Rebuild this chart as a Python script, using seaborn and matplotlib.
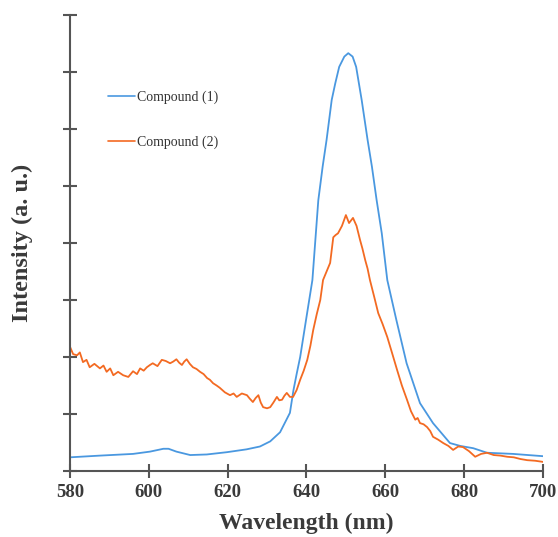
import numpy as np
import pandas as pd
import matplotlib
matplotlib.use("Agg")
import matplotlib.pyplot as plt
import seaborn as sns

# Compound (1) - smooth emission spectrum (a.u.)
wl_1 = [580, 587.6, 596, 600.3, 603.7, 605, 607, 610.5, 614.7, 619.8, 624.8, 628.2,
        630.8, 633.3, 635.8, 636.7, 637.5, 638.4, 640, 641.5, 643, 644.1, 645.1,
        646.4, 647.3, 648.3, 649.6, 650.6, 651.7, 652.6, 654, 655.5, 656.6, 657.8,
        659.1, 660.5, 662.8, 665.4, 668.8, 672.1, 676.4, 679, 682.3, 685.8, 692.4, 700]
int_1 = [0.24, 0.27, 0.30, 0.34, 0.39, 0.39, 0.34, 0.28, 0.29, 0.33, 0.38, 0.43,
         0.52, 0.68, 1.02, 1.42, 1.70, 2.00, 2.70, 3.35, 4.75, 5.34, 5.81,
         6.51, 6.80, 7.09, 7.27, 7.33, 7.27, 7.09, 6.51, 5.81, 5.34, 4.75,
         4.17, 3.35, 2.65, 1.89, 1.19, 0.84, 0.49, 0.44, 0.40, 0.32, 0.30, 0.26]

# Compound (2) - noisy emission spectrum
wl_2 = [580, 580.8, 581.8, 582.5, 583.3, 584.2, 585, 586.2, 587.6, 588.5, 589.3, 590.2,
        591, 592.2, 593.5, 594.8, 596, 597, 597.8, 598.7, 599.5, 600.3, 601, 602.2,
        603.3, 604.3, 605.4, 606.2, 607, 607.7, 608.4, 609, 609.6, 610.4, 611.2, 612.1,
        613, 613.9, 614.8, 615.5, 616.3, 617.2, 618, 619.3, 620.6, 621.5, 622.3, 623.6,
        624.9, 625.6, 626.4, 627.1, 627.8, 628.4, 629, 630, 630.8, 631.6, 632.5, 633.1,
        633.8, 634.4, 635, 635.8, 636.6, 637.5, 638.4, 639.3, 640.2, 641, 641.7, 642.6,
        643.5, 644.2, 645.1, 646, 646.8, 647.4, 648, 649, 650, 650.8, 651.8, 652.7,
        653.6, 654.2, 654.9, 655.5, 656.1, 657.2, 658.2, 659.3, 660.5, 661.8, 663, 664.2,
        665.5, 666.5, 667.6, 668.2, 668.8, 669.7, 670.6, 671.4, 672.1, 673.4, 674.7,
        676, 677.2, 678.5, 679.7, 681.2, 682.8, 684.3, 685.8, 687.5, 689.2, 690.9,
        692.6, 694.3, 696, 698, 700]
int_2 = [2.18, 2.05, 2.03, 2.08, 1.91, 1.95, 1.82, 1.88, 1.80, 1.85, 1.74, 1.80,
         1.68, 1.74, 1.68, 1.65, 1.75, 1.70, 1.80, 1.76, 1.82, 1.86, 1.89, 1.84,
         1.95, 1.93, 1.89, 1.92, 1.96, 1.90, 1.86, 1.92, 1.96, 1.88, 1.82, 1.79,
         1.74, 1.70, 1.63, 1.60, 1.54, 1.50, 1.46, 1.38, 1.33, 1.36, 1.30, 1.36,
         1.33, 1.27, 1.21, 1.28, 1.33, 1.20, 1.12, 1.10, 1.12, 1.20, 1.30, 1.24,
         1.25, 1.32, 1.37, 1.30, 1.30, 1.42, 1.60, 1.76, 1.95, 2.20, 2.47, 2.75,
         3.00, 3.35, 3.50, 3.65, 4.10, 4.14, 4.17, 4.30, 4.49, 4.35, 4.44, 4.30,
         4.05, 3.90, 3.70, 3.55, 3.35, 3.05, 2.77, 2.58, 2.35, 2.05, 1.77, 1.50,
         1.25, 1.05, 0.90, 0.93, 0.84, 0.82, 0.77, 0.70, 0.60, 0.55, 0.49, 0.44,
         0.37, 0.43, 0.42, 0.35, 0.25, 0.30, 0.32, 0.28, 0.27, 0.25, 0.24, 0.21,
         0.19, 0.18, 0.16]

labels = ["Compound (1)", "Compound (2)"]
x_ticks = [580, 600, 620, 640, 660, 680, 700]

df = pd.concat([
    pd.DataFrame({"wl": wl_1, "intensity": int_1, "sample": labels[0]}),
    pd.DataFrame({"wl": wl_2, "intensity": int_2, "sample": labels[1]}),
])

sns.set_style("ticks")
plt.rcParams["font.family"] = ["Liberation Serif", "DejaVu Serif"]

fig = plt.figure(figsize=(5.58, 5.37), dpi=100)
ax = fig.add_axes([0.1254, 0.1229, 0.8477, 0.8492])

sns.lineplot(data=df, x="wl", y="intensity", hue="sample", sort=False,
             palette=["#4a98e0", "#f36a22"], linewidth=1.3, ax=ax, estimator=None)

ax.set_xlim(580, 700)
ax.set_ylim(0, 8)
ax.set_xticks(x_ticks)
ax.set_yticks(np.arange(0, 9))
ax.set_yticklabels([])

for side in ["top", "right"]:
    ax.spines[side].set_visible(False)
for side in ["left", "bottom"]:
    ax.spines[side].set_color("#555555")
    ax.spines[side].set_linewidth(1.5)

ax.tick_params(axis="both", direction="inout", length=10, width=1.5, color="#555555")
ax.tick_params(axis="x", labelsize=13.5, labelcolor="#3a3a3a", pad=4)
for t in ax.get_xticklabels():
    t.set_fontweight("bold")

ax.set_xlabel("Wavelength (nm)", fontsize=17, fontweight="bold", color="#3a3a3a")
ax.set_ylabel("Intensity (a. u.)", fontsize=17.5, fontweight="bold", color="#3a3a3a")
ax.xaxis.set_label_coords(0.5, -0.092)
ax.yaxis.set_label_coords(-0.078, 0.5)

leg = ax.legend(loc="upper left", bbox_to_anchor=(0.08, 0.835), frameon=False,
                fontsize=10, handlelength=1.95, handletextpad=0.15,
                labelspacing=2.3, borderpad=0, borderaxespad=0)
for t in leg.get_texts():
    t.set_color("#333333")
for h in leg.get_lines():
    h.set_linewidth(1.2)

fig.savefig("out.png", dpi=100)
